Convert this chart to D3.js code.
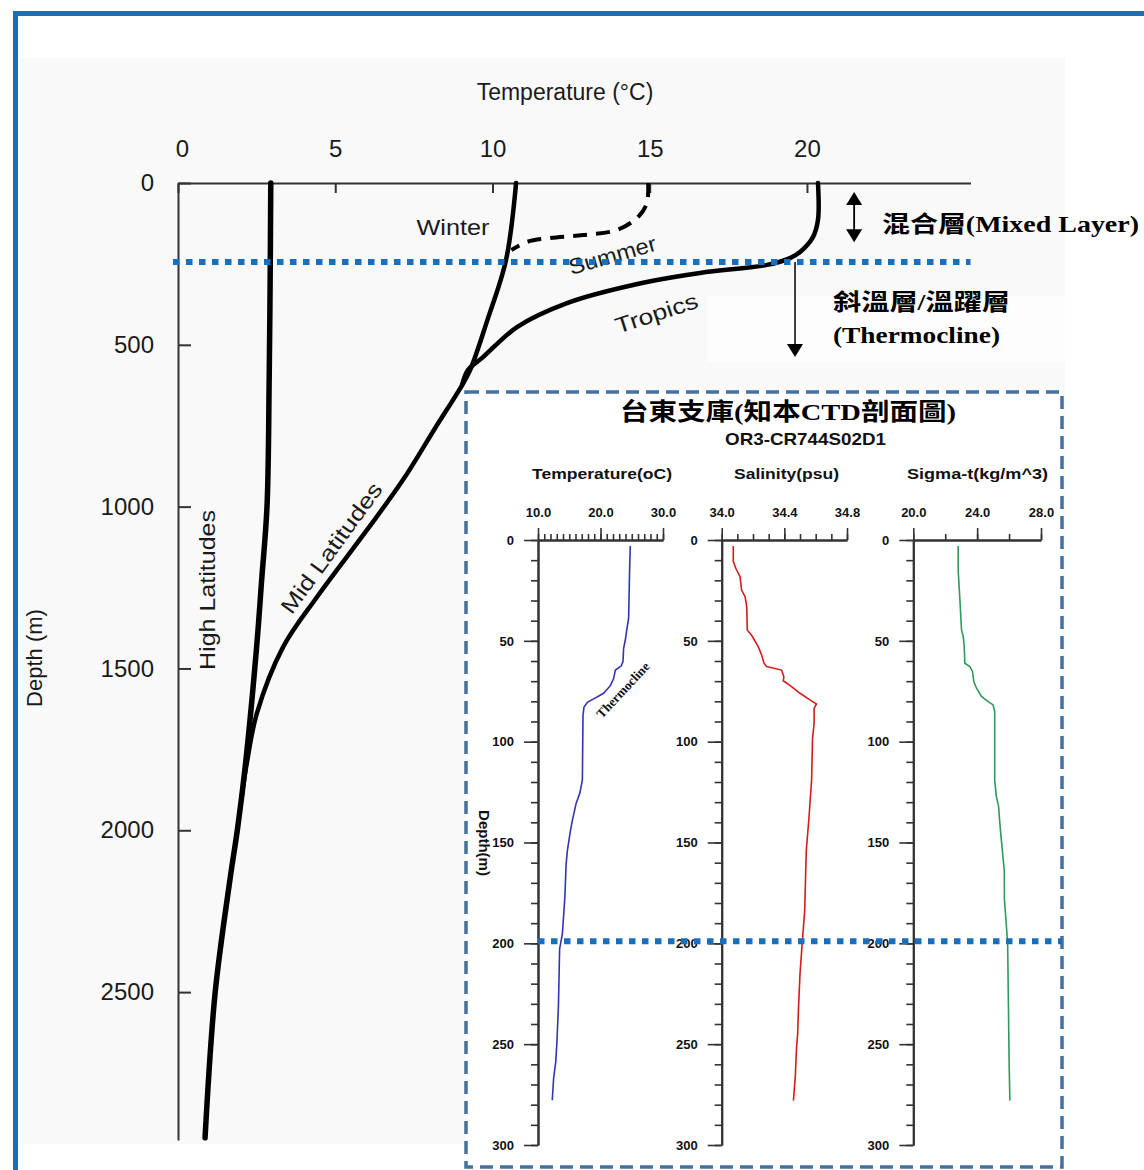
<!DOCTYPE html>
<html><head><meta charset="utf-8">
<script src="https://cdn.jsdelivr.net/npm/d3@7"></script>
<style>body{margin:0;background:#fff}svg{display:block}</style>
</head><body>
<svg id="c" width="1144" height="1170"></svg>
<script>
// ---------- Main chart data (depth m, temperature °C) ----------
const highLatDepth = [0, 300, 600, 1000, 1227, 1434, 1792, 1990, 2154, 2503, 2950];
const highLatTemp  = [2.95, 2.93, 2.9, 2.83, 2.66, 2.5, 2.15, 1.9, 1.65, 1.18, 0.86];
const midLatDepth  = [0, 238, 426, 580, 625, 763, 918, 1072, 1279, 1434, 1638, 1792, 1900];
const midLatTemp   = [10.75, 10.43, 9.83, 9.28, 9.03, 8.14, 7.15, 6.01, 4.42, 3.34, 2.51, 2.19, 2.02];
const tropicsDepth = [0, 114, 167, 213, 232, 253, 278, 315, 371, 445, 538, 578, 625];
const tropicsTemp  = [20.35, 20.35, 20.19, 19.78, 19.46, 18.73, 16.6, 14.47, 12.37, 10.78, 9.70, 9.22, 9.03];
const summerDepth  = [0, 62, 105, 145, 161, 170, 182, 207];
const summerTemp   = [14.95, 14.91, 14.63, 13.96, 12.88, 11.83, 11.1, 10.6];
const mainXTicks = [0, 5, 10, 15, 20];
const mainYTicks = [0, 500, 1000, 1500, 2000, 2500];
const mixedLayerBottom = 244;   // depth of dotted line (m)
const thermoclineBottom = 538;

// ---------- Inset CTD data (depth m) ----------
const tempDepth = [3, 15.7, 38.8, 44.6, 49.6, 53.7, 60.3, 62.5, 64.5, 68.7, 72.1, 76, 78.8, 80.5, 83, 87, 119, 125.5, 130.6, 139, 144, 154, 160.6, 177, 195.3, 202.7, 230.8, 248.8, 258.8, 267, 277.8];
const tempVal   = [24.76, 24.65, 24.5, 24.2, 23.97, 23.7, 23.6, 23.3, 22.38, 22.1, 21.6, 20.5, 18.9, 17.9, 17.35, 17.2, 17.1, 16.7, 16.1, 15.5, 15.2, 14.7, 14.5, 14.3, 13.9, 13.46, 13.27, 13.03, 12.84, 12.5, 12.28];
const salDepth = [3, 10.7, 14, 18.2, 24.8, 28.1, 33.1, 44.6, 47.1, 52.9, 57, 61.1, 62.8, 64.5, 67.8, 69.8, 72.7, 76, 79.3, 81.3, 83.5, 91, 98.3, 119, 139, 154, 183.6, 200, 215, 233, 244.6, 252.9, 266, 278];
const salVal   = [34.074, 34.074, 34.09, 34.117, 34.127, 34.149, 34.16, 34.163, 34.19, 34.233, 34.255, 34.27, 34.287, 34.382, 34.397, 34.393, 34.446, 34.5, 34.563, 34.605, 34.59, 34.59, 34.58, 34.574, 34.556, 34.54, 34.53, 34.514, 34.5, 34.49, 34.485, 34.477, 34.47, 34.458];
const sigDepth = [3, 14.9, 29.7, 44.6, 47.9, 52.9, 61.1, 62.8, 65.3, 70.2, 73.5, 77.6, 80.1, 81.8, 85.1, 119, 127, 132, 144, 154, 164, 178.5, 186.7, 200, 231, 257.6, 278];
const sigVal   = [22.81, 22.81, 22.92, 23.02, 23.13, 23.19, 23.23, 23.54, 23.71, 23.79, 23.96, 24.27, 24.69, 25.0, 25.1, 25.1, 25.2, 25.34, 25.46, 25.58, 25.7, 25.71, 25.79, 25.91, 25.96, 26.0, 26.05];
const tempMajor = [10, 20, 30], tempMinorStep = 1;
const salMajor  = [34.0, 34.4, 34.8], salMinorStep = 0.1;
const sigMajor  = [20, 24, 28], sigMinorStep = 2;
const insetDepthMajor = [0, 50, 100, 150, 200, 250, 300];
const insetDottedDepth = 199;

// ---------- Drawing ----------
const svg = d3.select("#c");
const BLUE = "#1a6fbd";
const SANS = "'Liberation Sans', Arial, sans-serif";
const SERIF = "'Liberation Serif', 'Noto Sans CJK TC', serif";

svg.append("rect").attr("x",0).attr("y",0).attr("width",1144).attr("height",1170).attr("fill","#fff");
svg.append("rect").attr("x",20).attr("y",58).attr("width",1045).attr("height",1086).attr("fill","#f9f9f9");
svg.append("rect").attr("x",707).attr("y",296).attr("width",358).attr("height",66).attr("fill","#fdfdfd");
svg.append("rect").attr("x",15.5).attr("y",13.5).attr("width",1160).attr("height",1200)
   .attr("fill","none").attr("stroke",BLUE).attr("stroke-width",5);

const xMain = d3.scaleLinear().domain([0, 25.2]).range([178, 970.5]);
const yMain = d3.scaleLinear().domain([0, 2957]).range([183, 1140]);

const gx = svg.append("g").attr("transform",`translate(0,${yMain(0)})`)
  .call(d3.axisTop(xMain).tickValues(mainXTicks).tickSizeInner(-10).tickSizeOuter(0).tickPadding(26).tickFormat(d3.format("d")));
const gy = svg.append("g").attr("transform",`translate(${xMain(0)},0)`)
  .call(d3.axisLeft(yMain).tickValues(mainYTicks).tickSizeInner(-13).tickSizeOuter(0).tickPadding(24).tickFormat(d3.format("d")));
[gx, gy].forEach(g => {
  g.select(".domain").attr("stroke","#333").attr("stroke-width",2);
  g.selectAll(".tick line").attr("stroke","#333").attr("stroke-width",2);
  g.selectAll(".tick text").attr("font-family",SANS).attr("font-size",24).attr("fill","#1a1a1a");
});
gx.selectAll(".tick text").attr("dx", d => d === 0 ? 4 : 0);

svg.append("text").attr("x",565).attr("y",100).attr("text-anchor","middle")
  .attr("font-family",SANS).attr("font-size",23).attr("fill","#1a1a1a").text("Temperature (°C)");
svg.append("text").attr("transform","translate(42,658) rotate(-90)").attr("text-anchor","middle")
  .attr("font-family",SANS).attr("font-size",22).attr("fill","#1a1a1a").text("Depth (m)");

function pts(dep, val){ return dep.map((d,i)=>({d, v: val[i]})); }
const mainLine = d3.line().x(p=>xMain(p.v)).y(p=>yMain(p.d)).curve(d3.curveCatmullRom.alpha(0.5));
svg.append("path").attr("d",mainLine(pts(highLatDepth,highLatTemp))).attr("fill","none").attr("stroke","#000").attr("stroke-width",5.5).attr("stroke-linecap","round");
svg.append("path").attr("d",mainLine(pts(midLatDepth,midLatTemp))).attr("fill","none").attr("stroke","#000").attr("stroke-width",4.5).attr("stroke-linecap","round");
svg.append("path").attr("d",mainLine(pts(tropicsDepth,tropicsTemp))).attr("fill","none").attr("stroke","#000").attr("stroke-width",4.5).attr("stroke-linecap","round");
svg.append("path").attr("d",mainLine(pts(summerDepth,summerTemp))).attr("fill","none").attr("stroke","#000").attr("stroke-width",4).attr("stroke-dasharray","14,9");

function lab(txt, x, y, rot, len){
  svg.append("text").attr("transform",`translate(${x},${y}) rotate(${rot})`).attr("text-anchor","middle")
   .attr("dominant-baseline","middle").attr("font-family",SANS).attr("font-size",22).attr("fill","#1a1a1a")
   .attr("textLength",len).attr("lengthAdjust","spacingAndGlyphs").text(txt);
}
lab("Winter", 453, 229, 0, 73);
lab("Summer", 613, 257, -16, 90);
lab("Tropics", 657, 315, -18, 86);
lab("Mid Latitudes", 333, 549, -54, 156);
lab("High Latitudes", 209, 590, -90, 160);

// dotted line (mixed layer base)
svg.append("line").attr("x1",xMain(0)-5).attr("x2",xMain(25.2)).attr("y1",yMain(mixedLayerBottom)).attr("y2",yMain(mixedLayerBottom))
  .attr("stroke",BLUE).attr("stroke-width",6).attr("stroke-dasharray","6.5,6.5");

// arrows
function head(x, y, dir){ // dir 1 = pointing down, -1 = up
  const w = 8, h = 13;
  svg.append("path").attr("d",`M${x},${y} L${x-w},${y-dir*h} L${x+w},${y-dir*h} Z`).attr("fill","#000");
}
const ax1 = xMain(21.5), ay1 = yMain(28), ay2 = yMain(183);
svg.append("line").attr("x1",ax1).attr("x2",ax1).attr("y1",ay1+6).attr("y2",ay2-6).attr("stroke","#000").attr("stroke-width",1.8);
head(ax1, ay1, -1); head(ax1, ay2, 1);
const ax2 = xMain(19.62), by1 = yMain(mixedLayerBottom), by2 = yMain(thermoclineBottom);
svg.append("line").attr("x1",ax2).attr("x2",ax2).attr("y1",by1).attr("y2",by2-6).attr("stroke","#000").attr("stroke-width",1.5);
head(ax2, by2, 1);

function ann(txt, x, y, size, len){
  svg.append("text").attr("x",x).attr("y",y).attr("font-family",SERIF).attr("font-weight","bold")
    .attr("font-size",size).attr("fill","#000").attr("textLength",len).attr("lengthAdjust","spacingAndGlyphs").text(txt);
}
ann("混合層(Mixed Layer)", 882, 232, 23, 257);
ann("斜溫層/溫躍層", 833, 310, 23, 177);
ann("(Thermocline)", 833, 343, 23, 167);

// ---------- Inset ----------
svg.append("rect").attr("x",466).attr("y",392).attr("width",596).attr("height",775)
  .attr("fill","#fff").attr("stroke","#44719f").attr("stroke-width",3.5).attr("stroke-dasharray","13,7");
ann("台東支庫(知本CTD剖面圖)", 620, 420, 24, 336);
svg.append("text").attr("x",725).attr("y",445).attr("font-family",SANS).attr("font-weight","bold").attr("font-size",17)
  .attr("fill","#111").attr("textLength",161).attr("lengthAdjust","spacingAndGlyphs").text("OR3-CR744S02D1");

const yIn = d3.scaleLinear().domain([0,300]).range([540,1145]);
const panels = [
  {name:"Temperature(oC)", hx:532, hlen:140, dom:[10,30], rng:[538,663], major:tempMajor, step:tempMinorStep, dep:tempDepth, val:tempVal, color:"#3434b0"},
  {name:"Salinity(psu)",   hx:734, hlen:105, dom:[34.0,34.8], rng:[721.7,847], major:salMajor, step:salMinorStep, dep:salDepth, val:salVal, color:"#d41c1c"},
  {name:"Sigma-t(kg/m^3)", hx:907, hlen:141, dom:[20,28], rng:[913.3,1041], major:sigMajor, step:sigMinorStep, dep:sigDepth, val:sigVal, color:"#2f9a5c"}
];
panels.forEach(p => {
  const xs = d3.scaleLinear().domain(p.dom).range(p.rng);
  const minor = d3.range(p.dom[0], p.dom[1] + p.step/2, p.step).map(v => +v.toFixed(3));
  svg.append("text").attr("x",p.hx).attr("y",479).attr("font-family",SANS).attr("font-weight","bold").attr("font-size",15)
    .attr("fill","#111").attr("textLength",p.hlen).attr("lengthAdjust","spacingAndGlyphs").text(p.name);
  const g = svg.append("g");
  const t1 = g.append("g").attr("transform",`translate(0,${yIn(0)})`)
    .call(d3.axisTop(xs).tickValues(minor).tickSizeInner(6).tickSizeOuter(0).tickFormat(""));
  const t2 = g.append("g").attr("transform",`translate(0,${yIn(0)})`)
    .call(d3.axisTop(xs).tickValues(p.major).tickSizeInner(12).tickSizeOuter(0).tickPadding(11).tickFormat(d3.format(".1f")));
  const l1 = g.append("g").attr("transform",`translate(${xs(p.dom[0])},0)`)
    .call(d3.axisLeft(yIn).tickValues(d3.range(0,301,10)).tickSizeInner(7).tickSizeOuter(0).tickFormat(""));
  const l2 = g.append("g").attr("transform",`translate(${xs(p.dom[0])},0)`)
    .call(d3.axisLeft(yIn).tickValues(insetDepthMajor).tickSizeInner(14).tickSizeOuter(0).tickPadding(10).tickFormat(d3.format("d")));
  [t1,t2,l1,l2].forEach(a => {
    a.select(".domain").attr("stroke","#333").attr("stroke-width",2);
    a.selectAll(".tick line").attr("stroke","#333").attr("stroke-width",1.6);
    a.selectAll(".tick text").attr("font-family",SANS).attr("font-weight","bold").attr("font-size",13).attr("fill","#111");
  });
  const ln = d3.line().x(q=>xs(q.v)).y(q=>yIn(q.d));
  svg.append("path").attr("d",ln(pts(p.dep,p.val))).attr("fill","none").attr("stroke",p.color).attr("stroke-width",1.6);
});
svg.append("text").attr("transform","translate(479,843) rotate(90)").attr("text-anchor","middle")
  .attr("font-family",SANS).attr("font-weight","bold").attr("font-size",15).attr("fill","#111").text("Depth(m)");
svg.append("text").attr("transform","translate(624,691) rotate(-47)").attr("text-anchor","middle").attr("dominant-baseline","middle")
  .attr("font-family",SERIF).attr("font-weight","bold").attr("font-size",13).attr("fill","#111").text("Thermocline");

svg.append("line").attr("x1",538).attr("x2",1062).attr("y1",yIn(insetDottedDepth)).attr("y2",yIn(insetDottedDepth))
  .attr("stroke",BLUE).attr("stroke-width",6).attr("stroke-dasharray","6.5,6.5");
</script>
</body></html>
